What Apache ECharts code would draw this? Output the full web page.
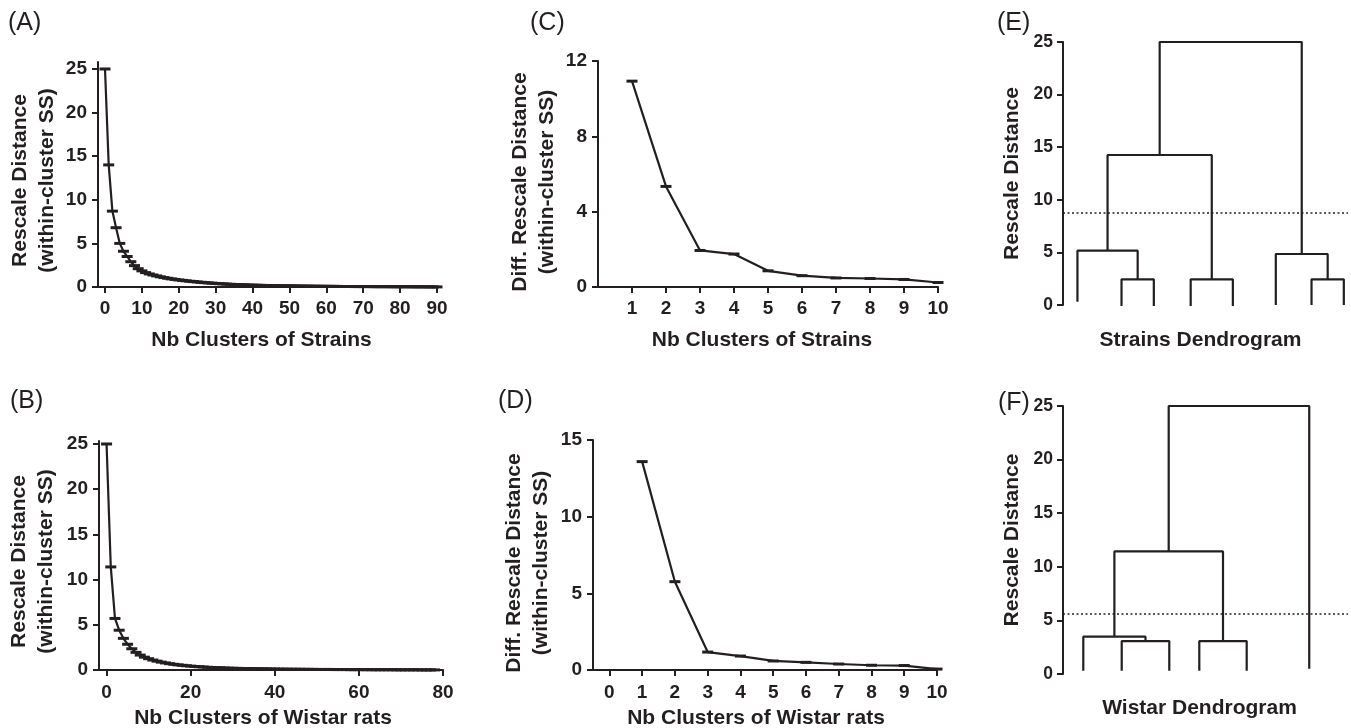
<!DOCTYPE html>
<html>
<head>
<meta charset="utf-8">
<script src="https://cdn.jsdelivr.net/npm/echarts@6/dist/echarts.min.js"></script>
<style>
  html, body { margin: 0; padding: 0; background: #fff; }
  #chart { width: 1351px; height: 728px; }
</style>
</head>
<body>
<div id="chart"></div>
<script>
// (A) within-cluster SS vs number of clusters, strains (x = 0..90)
const strainsSS = [
  25, 14.0, 8.7, 6.8, 5.0, 4.1, 3.5, 2.9, 2.45, 2.1,
  1.85, 1.65, 1.5, 1.38, 1.27, 1.17, 1.08, 1.0, 0.93, 0.87,
  0.81, 0.76, 0.71, 0.66, 0.62, 0.58, 0.54, 0.5, 0.47, 0.44,
  0.41, 0.38, 0.36, 0.33, 0.31, 0.29, 0.27, 0.25, 0.24, 0.22,
  0.21, 0.2, 0.19, 0.18, 0.17, 0.16, 0.15, 0.14, 0.14, 0.13,
  0.12, 0.12, 0.11, 0.11, 0.1, 0.1, 0.09, 0.09, 0.08, 0.08,
  0.08, 0.07, 0.07, 0.07, 0.06, 0.06, 0.06, 0.06, 0.05, 0.05,
  0.05, 0.05, 0.05, 0.04, 0.04, 0.04, 0.04, 0.04, 0.03, 0.03,
  0.03, 0.03, 0.03, 0.03, 0.02, 0.02, 0.02, 0.02, 0.01, 0.01,
  0.01
];
// (B) same for Wistar rats (x = 0..78)
const wistarSS = [
  25, 11.4, 5.7, 4.4, 3.5, 2.85, 2.35, 1.95, 1.65, 1.42,
  1.25, 1.1, 0.98, 0.87, 0.78, 0.7, 0.63, 0.57, 0.52, 0.47,
  0.43, 0.39, 0.36, 0.33, 0.3, 0.28, 0.26, 0.24, 0.22, 0.2,
  0.19, 0.18, 0.17, 0.16, 0.15, 0.14, 0.13, 0.12, 0.12, 0.11,
  0.1, 0.1, 0.09, 0.09, 0.08, 0.08, 0.08, 0.07, 0.07, 0.07,
  0.06, 0.06, 0.06, 0.06, 0.05, 0.05, 0.05, 0.05, 0.04, 0.04,
  0.04, 0.04, 0.04, 0.03, 0.03, 0.03, 0.03, 0.03, 0.03, 0.02,
  0.02, 0.02, 0.02, 0.02, 0.02, 0.01, 0.01, 0.01, 0.01
];
// (C), (D) differences, x = 1..10
const diffClusters = [1, 2, 3, 4, 5, 6, 7, 8, 9, 10];
const strainsDiff = [10.93, 5.34, 1.94, 1.75, 0.86, 0.6, 0.48, 0.45, 0.4, 0.24];
const wistarDiff = [13.59, 5.76, 1.17, 0.91, 0.59, 0.5, 0.39, 0.31, 0.29, 0.06];

// (E) strains dendrogram: leaf positions, leaf bases, merges [left node, right node, height]
const strainsLeafX = [0.38, 1.54, 2.39, 3.36, 4.47, 5.6, 6.54, 7.39];
const strainsLeafBase = [0.3, -0.15, -0.15, -0.15, -0.15, 0, 0, 0];
const strainsMerges = [[1, 2, 2.44], [0, 8, 5.16], [3, 4, 2.44], [9, 10, 14.26], [6, 7, 2.44], [5, 12, 4.85], [11, 13, 25]];
const strainsCut = 8.78;

// (F) Wistar dendrogram
const wistarLeafX = [0.534, 1.545, 2.797, 3.587, 4.834, 6.48];
const wistarLeafBase = [0.3, 0.3, 0.3, 0.3, 0.3, 0.5];
const wistarMerges = [[1, 2, 3.07], [0, 6, 3.48], [3, 4, 3.07], [7, 8, 11.43], [9, 5, 25]];
const wistarCut = 5.62;

const ssTicks = [0, 5, 10, 15, 20, 25];
const strainsXTicks = [0, 10, 20, 30, 40, 50, 60, 70, 80, 90];
const wistarXTicks = [0, 20, 40, 60, 80];

const INK = '#231f20';
const FONT = "'Liberation Sans', Arial, Helvetica, sans-serif";

function axis(grid, min, max, ticks, opts) {
  opts = opts || {};
  return {
    type: 'value', gridIndex: grid, min: min, max: max,
    show: true,
    axisLine: { show: opts.line !== false, onZero: false, lineStyle: { color: INK, width: 2 } },
    axisTick: { show: opts.line !== false, length: 6, customValues: ticks, lineStyle: { color: INK, width: 2 } },
    axisLabel: {
      show: opts.line !== false, customValues: ticks, color: INK, fontFamily: FONT,
      fontWeight: 'bold', fontSize: opts.labelSize || 19, margin: opts.margin || 12
    },
    splitLine: { show: false },
    name: opts.name, nameLocation: 'middle', nameGap: opts.nameGap,
    nameTextStyle: {
      color: INK, fontFamily: FONT, fontWeight: 'bold', fontSize: 21,
      lineHeight: opts.nameLH || 27, padding: opts.namePad || 0
    }
  };
}

function curve(data, startX, idx) {
  return {
    type: 'line', xAxisIndex: idx, yAxisIndex: idx,
    data: data.map((v, i) => [startX + i, v]),
    symbol: 'rect', symbolSize: [11, 3], showSymbol: true,
    itemStyle: { color: INK }, lineStyle: { color: INK, width: 2.2 },
    silent: true
  };
}

function dendro(leafX, leafBase, merges, cut, idx) {
  const nx = leafX.slice(), ny = leafBase.slice();
  const out = merges.map(([a, b, h]) => {
    const s = {
      type: 'line', xAxisIndex: idx, yAxisIndex: idx, symbol: 'none', silent: true,
      lineStyle: { color: INK, width: 2.2 },
      data: [[nx[a], ny[a]], [nx[a], h], [nx[b], h], [nx[b], ny[b]]]
    };
    nx.push((nx[a] + nx[b]) / 2);
    ny.push(h);
    return s;
  });
  out[0].markLine = {
    symbol: 'none', silent: true, label: { show: false },
    lineStyle: { color: INK, width: 1.6, type: [2, 2.5] },
    data: [{ yAxis: cut }]
  };
  return out;
}

const chart = echarts.init(document.getElementById('chart'));

const option = {
  animation: false,
  backgroundColor: '#fff',
  textStyle: { fontFamily: FONT },
  title: [
    ['(A)', 8, 11], ['(B)', 10, 389], ['(C)', 530, 11],
    ['(D)', 498, 389], ['(E)', 997, 11], ['(F)', 998, 391]
  ].map(([t, l, tp]) => ({
    text: t, left: l, top: tp, padding: 0,
    textStyle: { fontFamily: FONT, fontWeight: 'normal', fontSize: 25, color: INK }
  })),
  grid: [
    { left: 98, top: 62, width: 339, height: 225 },
    { left: 99, top: 441, width: 344, height: 229 },
    { left: 598, top: 61, width: 340, height: 226 },
    { left: 593, top: 440, width: 344, height: 230 },
    { left: 1063, top: 42, width: 285, height: 263 },
    { left: 1063, top: 406, width: 285, height: 268 }
  ].map(g => Object.assign({ outerBoundsMode: 'none', containLabel: false }, g)),
  xAxis: [
    axis(0, -1.9, 90, strainsXTicks, { name: 'Nb Clusters of Strains', nameGap: 40, namePad: [0, 12, 0, 0] }),
    axis(1, -1.8, 80, wistarXTicks, { name: 'Nb Clusters of Wistar rats', nameGap: 35, margin: 13, namePad: [0, 16, 0, 0] }),
    axis(2, 0, 10, diffClusters, { name: 'Nb Clusters of Strains', nameGap: 40, namePad: [0, 12, 0, 0] }),
    axis(3, -0.5, 10, [0].concat(diffClusters), { name: 'Nb Clusters of Wistar rats', nameGap: 35, margin: 13, namePad: [0, 18, 0, 0] }),
    axis(4, 0, 7.5, [], { line: false, name: 'Strains Dendrogram', nameGap: 22, namePad: [0, 10, 0, 0] }),
    axis(5, 0, 7.5, [], { line: false, name: 'Wistar Dendrogram', nameGap: 21, namePad: [0, 12, 0, 0] })
  ],
  yAxis: [
    axis(0, 0, 25.8, ssTicks, { name: 'Rescale Distance\n(within-cluster SS)', nameGap: 37, margin: 11, namePad: [0, 12, 0, 0] }),
    axis(1, 0, 25.33, ssTicks, { name: 'Rescale Distance\n(within-cluster SS)', nameGap: 39, margin: 11, namePad: [0, 12, 0, 0] }),
    axis(2, 0, 12, [0, 4, 8, 12], { name: 'Diff. Rescale Distance\n(within-cluster SS)', nameGap: 37, margin: 11, namePad: [0, 16, 0, 0] }),
    axis(3, 0, 15, [0, 5, 10, 15], { name: 'Diff. Rescale Distance\n(within-cluster SS)', nameGap: 38, margin: 11, namePad: [0, 16, 0, 0] }),
    axis(4, 0, 25, ssTicks, { name: 'Rescale Distance', nameGap: 41, labelSize: 17.5, margin: 10, nameLH: 20 }),
    axis(5, 0, 25, ssTicks, { name: 'Rescale Distance', nameGap: 41, labelSize: 17.5, margin: 10, nameLH: 20 })
  ],
  series: [
    curve(strainsSS, 0, 0),
    curve(wistarSS, 0, 1),
    curve(strainsDiff, diffClusters[0], 2),
    curve(wistarDiff, diffClusters[0], 3)
  ].concat(
    dendro(strainsLeafX, strainsLeafBase, strainsMerges, strainsCut, 4),
    dendro(wistarLeafX, wistarLeafBase, wistarMerges, wistarCut, 5)
  )
};

chart.setOption(option);
window.addEventListener('resize', () => chart.resize());
</script>
</body>
</html>
